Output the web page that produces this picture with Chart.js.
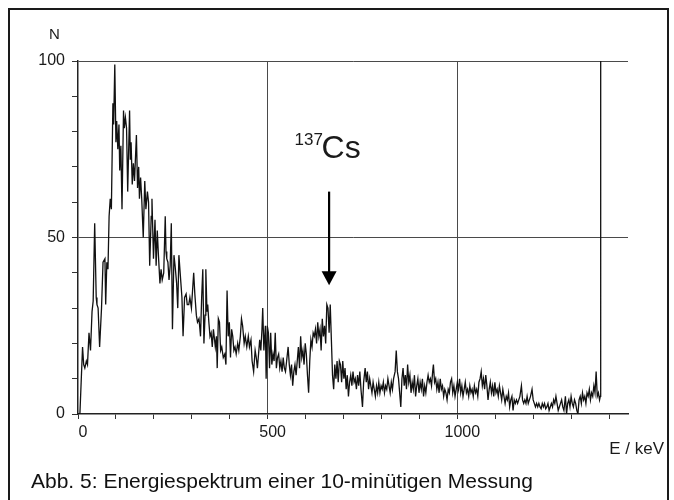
<!DOCTYPE html>
<html>
<head>
<meta charset="utf-8">
<script src="https://cdn.jsdelivr.net/npm/chart.js@4.4.1/dist/chart.umd.min.js"></script>
<style>
  html, body { margin: 0; padding: 0; background: #fff; }
  #wrap { position: relative; width: 674px; height: 500px; overflow: hidden; }
  #frame { position: absolute; left: 8px; top: 8px; width: 657px; height: 520px; border: 2px solid #1a1a1a; box-sizing: content-box; }
  #caption { position: absolute; left: 31px; top: 470px; font: 21px "Liberation Sans", Arial, sans-serif; line-height: 21px; color: #111; white-space: nowrap; }
  canvas { position: absolute; left: 0; top: 0; }
</style>
</head>
<body>
<div id="wrap">
  <div id="frame"></div>
  <canvas id="spectrum" width="674" height="500"></canvas>
  <div id="caption">Abb. 5: Energiespektrum einer 10-minütigen Messung</div>
</div>
<script>
// channel energy in keV
const energies = [
  0, 5, 12, 15, 18, 22, 25, 29, 33, 37,
  40, 44, 48, 50, 53, 57, 62, 66, 71, 73,
  76, 79, 82, 85, 88, 92, 94, 97, 100, 102,
  105, 108, 110, 113, 116, 120, 122, 125, 128, 131,
  136, 138, 140, 143, 146, 149, 154, 157, 160, 162,
  165, 168, 172, 176, 179, 183, 186, 189, 193, 195,
  199, 203, 206, 209, 212, 216, 219, 222, 226, 230,
  232,
  234, 237, 240, 243, 246, 249, 253, 256, 260, 263,
  266, 270, 274, 277, 281, 285, 288, 292, 295, 299,
  302, 305, 308, 312, 315, 319, 323, 326, 329, 332,
  335, 337, 340, 342, 345, 348, 351, 354, 357, 362,
  365, 367, 370, 373, 376, 379, 383, 387, 390, 393,
  396, 399, 402, 405, 408, 411, 414, 417, 421, 424,
  428, 431, 434, 438, 441, 445, 449, 452, 456, 459,
  463, 467,
  470, 473, 476, 479, 482, 485, 487, 490, 494, 496,
  499, 502, 505, 508, 511, 514, 517, 520, 523, 526,
  529, 532, 535, 538, 541, 544, 547, 550, 554, 557,
  560, 563, 566, 569, 572, 575, 578, 581, 584, 587,
  590, 593, 596, 599, 602, 605, 608, 611, 614, 617,
  620, 623, 626, 629, 632, 635, 638, 641, 644, 647,
  650, 653, 656, 659, 662, 665, 668, 671, 674, 677,
  680, 683, 686, 689,
  692, 695, 698, 701, 704, 707, 710, 713, 716, 719,
  722, 725, 728, 731, 734, 737, 740, 743, 746, 750,
  753, 757, 760, 763, 766, 769, 772, 775, 778, 781,
  784, 787, 790, 793, 796, 799, 802, 805, 808, 811,
  814, 817, 820, 823, 826, 829, 832, 836, 839, 842,
  845, 848, 851, 854, 857, 860, 863, 866, 869, 872,
  875, 878, 881, 884, 887, 890, 893, 896, 899, 902,
  905, 908, 911, 914, 917, 920,
  923, 926, 929, 932, 935, 937, 940, 943, 946, 949,
  952, 955, 958, 961, 964, 967, 970, 973, 976, 979,
  982, 985, 988, 991, 994, 997, 1000, 1003, 1006, 1009,
  1012, 1015, 1018, 1021, 1024, 1027, 1030, 1033, 1036, 1039,
  1042, 1045, 1048, 1051, 1054, 1057, 1060, 1063, 1066, 1069,
  1072, 1075, 1078, 1081, 1084, 1087, 1090, 1093, 1096, 1099,
  1102, 1105, 1108, 1111, 1114, 1117, 1120, 1123, 1126, 1129,
  1132, 1135, 1138, 1141, 1144, 1147, 1150, 1153,
  1156, 1159, 1162, 1165, 1169, 1172, 1175, 1178, 1181, 1184,
  1187, 1190, 1193, 1197, 1200, 1203, 1206, 1209, 1212, 1215,
  1218, 1221, 1224, 1227, 1230, 1233, 1236, 1239, 1242, 1245,
  1248, 1251, 1254, 1257, 1260, 1263, 1266, 1269, 1272, 1275,
  1278, 1281, 1285, 1288, 1291, 1294, 1297, 1300, 1303, 1306,
  1309, 1312, 1315, 1318, 1321, 1324, 1327, 1330, 1333, 1336,
  1339, 1342, 1345, 1348, 1351, 1354, 1357, 1360, 1363, 1366,
  1369, 1372, 1375, 1377, 1378
];

// counts N per channel
const counts = [
  0, 0, 19, 14, 13, 15, 14, 23, 18, 29,
  32, 54, 33, 31, 30, 19, 30, 43, 44, 31,
  43, 41, 56, 61, 58, 88, 82, 99, 77, 83,
  75, 82, 69, 76, 58, 86, 81, 84, 81, 63,
  86, 72, 77, 65, 71, 66, 79, 64, 70, 61,
  67, 61, 50, 66, 58, 63, 60, 42, 56, 61,
  44, 55, 42, 52, 45, 37, 41, 38, 40, 56,
  46,
  44, 43, 38, 42, 54, 24, 45, 42, 37, 30,
  45, 39, 33, 22, 33, 34, 31, 31, 33, 30,
  35, 40, 34, 28, 26, 27, 22, 33, 41, 20,
  28, 41, 29, 31, 26, 22, 23, 19, 24, 19,
  22, 13, 27, 26, 18, 19, 16, 17, 14, 35,
  22, 26, 16, 24, 22, 18, 19, 17, 20, 18,
  22, 27, 25, 20, 22, 19, 22, 19, 21, 15,
  12, 18,
  16, 13, 17, 21, 18, 24, 30, 18, 25, 10,
  25, 23, 13, 23, 14, 17, 15, 23, 13, 16,
  17, 13, 15, 12, 16, 13, 12, 15, 19, 14,
  11, 14, 8, 12, 14, 11, 15, 19, 13, 22,
  16, 18, 14, 20, 17, 11, 6, 15, 21, 19,
  23, 22, 24, 20, 26, 22, 24, 18, 27, 22,
  25, 20, 31, 30, 23, 31, 21, 11, 7, 14,
  10, 15, 9, 15,
  14, 9, 15, 10, 13, 7, 11, 5, 9, 11,
  8, 12, 9, 10, 7, 11, 8, 12, 7, 2,
  9, 13, 9, 12, 7, 10, 8, 6, 9, 7,
  5, 8, 6, 9, 6, 8, 7, 9, 6, 8,
  7, 10, 8, 6, 9, 7, 10, 12, 18, 12,
  10, 6, 2, 10, 13, 8, 11, 7, 14, 9,
  11, 6, 9, 7, 11, 5, 8, 10, 6, 9,
  7, 10, 5, 8, 6, 9,
  11, 9, 10, 8, 12, 14, 9, 10, 7, 9,
  6, 10, 7, 8, 5, 7, 6, 4, 7, 6,
  9, 10, 6, 8, 5, 7, 9, 7, 10, 6,
  8, 5, 7, 9, 6, 7, 5, 8, 6, 7,
  5, 8, 6, 7, 5, 9, 10, 12, 8, 10,
  7, 11, 8, 4, 7, 9, 6, 8, 5, 9,
  6, 7, 5, 8, 6, 4, 7, 5, 3, 5,
  4, 6, 2, 4, 5, 1, 4, 3,
  4, 3, 4, 5, 8, 4, 3, 4, 3, 5,
  3, 4, 5, 7, 4, 3, 2, 3, 2, 3,
  2, 1.5, 3, 2, 3, 1.5, 2, 3, 1, 2,
  3, 2, 4, 3, 5, 3, 1, 2, 3, 4,
  2, 1, 5, 0, 3, 4, 2, 5, 3, 2,
  4, 3, 1, 0, 4, 5, 3, 6, 4, 5,
  3, 6, 5, 7, 4, 6, 5, 8, 6, 12,
  5, 6, 4, 5, 100
];

const xTicks = [0, 100, 200, 300, 400, 500, 600, 700, 800, 900, 1000, 1100, 1200, 1300, 1400];
const xLabels = [0, 500, 1000];
const xGrid = [500, 1000];
const yTicks = [0, 10, 20, 30, 40, 50, 60, 70, 80, 90, 100];
const yLabels = [0, 50, 100];
const yGrid = [50, 100];

// Cs-137 photo peak marker (keV, counts)
const csPeak = 662;
const arrowFrom = 63;
const arrowTo = 36.5;
const csLabelAt = 72.5;

const font = "'Liberation Sans', Arial, sans-serif";
const ink = "#1a1a1a";

const annotations = {
  id: "annotations",
  afterDraw(chart) {
    const { ctx, chartArea, scales } = chart;
    const x = scales.x.getPixelForValue(csPeak);
    const yTop = scales.y.getPixelForValue(arrowFrom);
    const yTip = scales.y.getPixelForValue(arrowTo);
    const yLabel = scales.y.getPixelForValue(csLabelAt);

    ctx.save();
    ctx.strokeStyle = "#000";

    // arrow
    ctx.lineWidth = 2.2;
    ctx.beginPath();
    ctx.moveTo(x, yTop);
    ctx.lineTo(x, yTip - 12);
    ctx.stroke();
    ctx.beginPath();
    ctx.moveTo(x - 7.5, yTip - 14);
    ctx.lineTo(x + 7.5, yTip - 14);
    ctx.lineTo(x, yTip);
    ctx.closePath();
    ctx.fillStyle = "#000";
    ctx.fill();

    // 137Cs label
    ctx.fillStyle = ink;
    ctx.textBaseline = "alphabetic";
    ctx.textAlign = "left";
    ctx.font = "17px " + font;
    ctx.fillText("137", x - 34.5, yLabel - 13);
    ctx.font = "32px " + font;
    ctx.fillText("Cs", x - 7.5, yLabel);

    // axis names
    ctx.font = "15px " + font;
    ctx.textAlign = "center";
    ctx.fillText("N", chartArea.left - 23.5, chartArea.top - 22.5);
    ctx.font = "17px " + font;
    ctx.textAlign = "right";
    ctx.fillText("E / keV", chartArea.right + 36, chartArea.bottom + 40);
    ctx.restore();
  }
};

new Chart(document.getElementById("spectrum"), {
  type: "line",
  data: {
    datasets: [{
      label: "N",
      data: energies.map((e, i) => ({ x: e, y: counts[i] })),
      borderColor: "#111",
      borderWidth: 1.3,
      pointRadius: 0,
      tension: 0,
      fill: false
    }]
  },
  options: {
    responsive: false,
    animation: false,
    events: [],
    layout: { padding: { left: 0, top: 61, right: 46, bottom: 46 } },
    plugins: {
      legend: { display: false },
      tooltip: { enabled: false }
    },
    scales: {
      x: {
        type: "linear",
        min: 0,
        max: 1450,
        afterBuildTicks: scale => { scale.ticks = xTicks.map(v => ({ value: v })); },
        afterFit: scale => { scale.height = 40; },
        ticks: {
          autoSkip: false,
          maxRotation: 0,
          padding: 4,
          labelOffset: 5,
          color: ink,
          font: { family: font, size: 16 },
          callback: v => xLabels.includes(v) ? String(v) : ""
        },
        grid: {
          color: c => c.tick && xGrid.includes(c.tick.value) ? "#4a4a4a" : "rgba(0,0,0,0)",
          tickColor: "#333",
          tickLength: 5,
          lineWidth: 1
        },
        border: { display: true, color: "#222", width: 1.5 }
      },
      y: {
        min: 0,
        max: 100,
        afterBuildTicks: scale => { scale.ticks = yTicks.map(v => ({ value: v })); },
        afterFit: scale => { scale.width = 78; },
        ticks: {
          autoSkip: false,
          padding: 7,
          color: ink,
          font: { family: font, size: 16 },
          callback: v => yLabels.includes(v) ? String(v) : ""
        },
        grid: {
          color: c => c.tick && yGrid.includes(c.tick.value) ? "#4a4a4a" : "rgba(0,0,0,0)",
          tickColor: "#333",
          tickLength: 6,
          lineWidth: 1
        },
        border: { display: true, color: "#222", width: 1.5 }
      }
    }
  },
  plugins: [annotations]
});
</script>
</body>
</html>
